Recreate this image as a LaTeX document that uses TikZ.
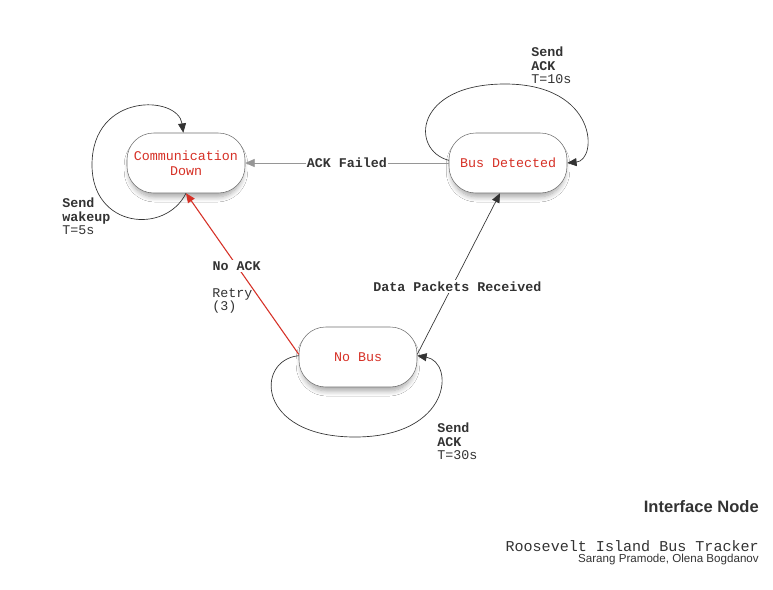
\documentclass[tikz,border=0pt]{standalone}
\usepackage{fontspec}
\setmainfont{Liberation Sans}
\setmonofont{Liberation Mono}
\usetikzlibrary{arrows.meta,shadows.blur}
\definecolor{txtred}{RGB}{214,48,38}
\definecolor{txtdark}{RGB}{51,51,51}
\definecolor{edgegray}{RGB}{150,150,150}
\tikzset{
  state/.style={rectangle,draw=txtdark!70,fill=white,rounded corners=20pt,
    minimum width=88.5pt,minimum height=45pt,align=center,
    font=\ttfamily\fontsize{10}{11}\selectfont,text=txtred,
    blur shadow={shadow xshift=0pt,shadow yshift=-4pt,shadow scale=0.96,shadow blur radius=4pt,shadow blur steps=8,shadow opacity=35}},
  trans/.style={draw=txtdark,line width=0.5pt,-{Triangle[length=7pt,width=6pt]}},
  lbl/.style={font=\ttfamily\bfseries\fontsize{10}{11}\selectfont,text=txtdark,fill=white,inner sep=1pt},
  note/.style={font=\ttfamily\fontsize{10}{10}\selectfont,text=txtdark,align=left,anchor=north west,inner sep=0pt}
}
\begin{document}
\begin{tikzpicture}[x=0.75pt,y=-0.75pt]
  \useasboundingbox[fill=white] (0,0) rectangle (773,589);
  \node[state] (cd) at (186,163) {Communication\\Down};
  \node[state] (bd) at (508,163) {Bus Detected};
  \node[state] (nb) at (358,357) {No Bus};
  % transitions
  \draw[trans,draw=edgegray] (bd.west) -- node[lbl] {ACK Failed} (cd.east);
  \draw[trans,draw=txtred,line width=0.8pt] ([yshift=2pt]nb.west) -- node[lbl,pos=0.55] {No ACK} (cd.south);
  \draw[trans] ([yshift=2pt]nb.east) -- node[lbl,pos=0.42,xshift=4pt] {Data Packets Received} ([xshift=-6pt]bd.south);
  % self loops
  \draw[trans] (cd.south) .. controls (165,235) and (92,228) .. (92,165)
    .. controls (92,92) and (178,95) .. ([xshift=-2pt]cd.north);
  \draw[trans] ([yshift=2pt]bd.west) .. controls (410,150) and (414,84) .. (505,84)
    .. controls (598,84) and (598,160) .. (bd.east);
  \draw[trans] ([yshift=1pt]nb.west) .. controls (255,360) and (256,437) .. (355,437)
    .. controls (452,437) and (455,362) .. ([yshift=1pt]nb.east);
  % loop notes
  \node[note] (wake) at (62,198) {\textbf{Send}\\\textbf{wakeup}\\T=5s};
  \node[note] (ack10) at (531,47) {\textbf{Send}\\\textbf{ACK}\\T=10s};
  \node[note] (ack30) at (437,423) {\textbf{Send}\\\textbf{ACK}\\T=30s};
  \node[note] (retry) at (212,288) {Retry\\(3)};
  % title block
  \node[anchor=east,inner sep=0pt,font=\bfseries\fontsize{12.4}{14}\selectfont,text=txtdark] (title) at (759,507) {Interface Node};
  \node[anchor=east,inner sep=0pt,font=\ttfamily\fontsize{11.3}{13}\selectfont,text=txtdark] (proj) at (759,546) {Roosevelt Island Bus Tracker};
  \node[anchor=east,inner sep=0pt,font=\fontsize{8.7}{10}\selectfont,text=txtdark] (auth) at (759,559) {Sarang Pramode, Olena Bogdanov};
\end{tikzpicture}
\end{document}
